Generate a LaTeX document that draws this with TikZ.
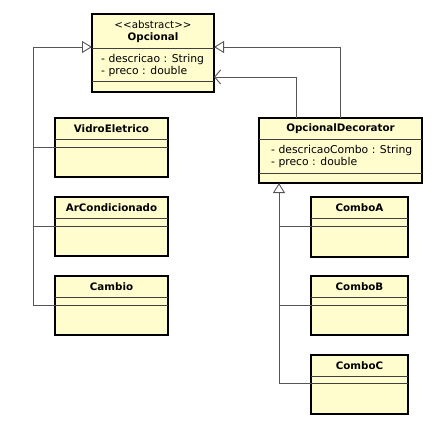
\documentclass[tikz,border=0pt]{standalone}
\usepackage{fontspec}
\setmainfont{DejaVu Sans}
\usetikzlibrary{arrows.meta,calc}
\definecolor{clsfill}{RGB}{255,253,206}
\definecolor{conn}{RGB}{85,85,85}
\tikzset{
  clsbox/.style={draw=black, line width=1.6pt, fill=clsfill, inner sep=0pt, outer sep=0pt, anchor=north west},
  clssep/.style={draw=black!75, line width=0.9pt},
  ttl/.style={font=\fontsize{10.3}{12}\selectfont\bfseries, inner sep=0pt, anchor=center},
  stereo/.style={font=\fontsize{10.3}{12}\selectfont, inner sep=0pt, anchor=center},
  attr/.style={font=\fontsize{10.8}{12.5}\selectfont, inner sep=0pt, anchor=west, align=left},
  conline/.style={draw=conn, line width=0.9pt},
  gen/.style={conline, -{Triangle[open, length=10pt, width=12pt, line width=0.9pt]}},
  assoc/.style={conline, -{Straight Barb[length=6pt, width=14pt, line width=0.9pt]}}
}
% name, left, top, right, bottom, sep1, sep2
\newcommand\umlcls[7]{%
  \node[clsbox, minimum width={(#4-#2)*1pt}, minimum height={(#5-#3)*1pt}] (#1) at (#2,#3) {};
  \draw[clssep] (#2,#6) -- (#4,#6);
  \draw[clssep] (#2,#7) -- (#4,#7);
}
\begin{document}
\begin{tikzpicture}[x=1pt,y=-1pt]
\path[use as bounding box] (0,0) rectangle (438,423);

% classes
\umlcls{opc}{92}{14}{214}{92}{48}{81}
\node[stereo] (opcst) at (153,25) {{<}{<}abstract{>}{>}};
\node[ttl] (opct) at (153,37.5) {Opcional};
\node[attr] (opca) at (101,65.5) {- descricao : String\\- preco : double};

\umlcls{vid}{55}{118}{168}{177}{139}{147}
\node[ttl] (vidt) at (111.5,129) {VidroEletrico};
\umlcls{arc}{55}{197}{168}{256}{218}{226}
\node[ttl] (arct) at (111.5,208) {ArCondicionado};
\umlcls{cam}{55}{276}{168}{335}{297}{305}
\node[ttl] (camt) at (111.5,287) {Cambio};

\umlcls{dec}{259}{118}{422}{183}{139}{173}
\node[ttl] (dect) at (340.5,129) {OpcionalDecorator};
\node[attr] (deca) at (271,156.5) {- descricaoCombo : String\\- preco : double};

\umlcls{ca}{311}{197}{408}{257}{218}{226}
\node[ttl] (cat) at (359.5,208) {ComboA};
\umlcls{cb}{311}{276}{408}{335}{297}{305}
\node[ttl] (cbt) at (359.5,287) {ComboB};
\umlcls{cc}{311}{355}{408}{414}{376}{383}
\node[ttl] (cct) at (359.5,366) {ComboC};

% left hierarchy
\coordinate (lbus) at (33,47);
\draw[gen] (cam.west |- 0,305) -| (lbus) -- (opc.west |- lbus);
\draw[conline] (vid.west |- 0,147) -- (lbus |- 0,147);
\draw[conline] (arc.west |- 0,226) -- (lbus |- 0,226);

% decorator to Opcional
\coordinate (dgen) at (340,47);
\draw[gen] (dec.north -| dgen) -- (dgen) -- (opc.east |- dgen);
\coordinate (dass) at (296,77);
\draw[assoc] (dec.north -| dass) -- (dass) -- (opc.east |- dass);

% right hierarchy
\coordinate (rbus) at (279,383);
\draw[gen] (cc.west |- rbus) -- (rbus) -- (dec.south -| rbus);
\draw[conline] (ca.west |- 0,226) -- (rbus |- 0,226);
\draw[conline] (cb.west |- 0,305) -- (rbus |- 0,305);
\end{tikzpicture}
\end{document}
